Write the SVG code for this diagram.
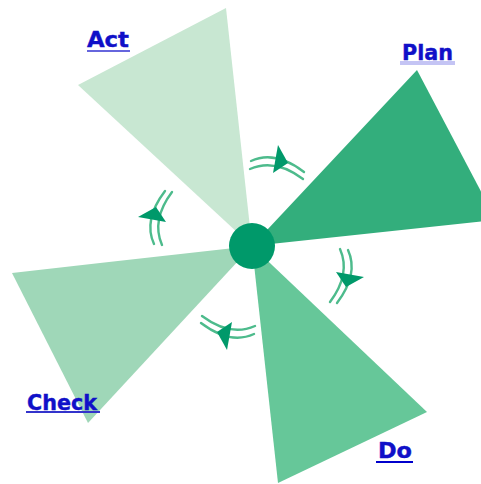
<svg xmlns="http://www.w3.org/2000/svg" width="481" height="484" viewBox="0 0 481 484">
  <style>
    .lbl { font-family: "DejaVu Sans", Verdana, sans-serif; font-weight: bold; font-size: 21px; fill: #1010c8; stroke: #1010c8; stroke-width: 0.4; }
    .strand { fill: none; stroke: #4dbb8c; stroke-width: 2.4; stroke-linecap: round; }
    .head { fill: #00996a; }
  </style>
  <defs>
    <g id="arrow">
      <path class="strand" d="M -7 -27 Q 4 -2 -17 26"/>
      <path class="strand" d="M 1 -26 Q 12 -2 -10 27"/>
      <polygon class="head" points="-11,-4 17,1 -1,11"/>
    </g>
  </defs>
  <rect width="481" height="484" fill="#ffffff"/>

  <g id="act">
    <polygon points="78,85 226,8 252,246" fill="#c8e7d2"/>
    <text class="lbl" x="87" y="47" textLength="42" lengthAdjust="spacingAndGlyphs">Act</text>
    <rect x="87" y="50" width="43" height="2" fill="#6666dd"/>
  </g>
  <g id="plan">
    <polygon points="417,70 496,220 252,246" fill="#33ae7c"/>
    <rect x="400" y="61" width="55" height="4" fill="#c4c4f4"/>
    <text class="lbl" x="402" y="60" textLength="51" lengthAdjust="spacingAndGlyphs">Plan</text>
  </g>
  <g id="do">
    <polygon points="427,412 278,483 252,246" fill="#66c799"/>
    <text class="lbl" x="378" y="458" textLength="34" lengthAdjust="spacingAndGlyphs">Do</text>
    <rect x="376" y="461" width="37" height="2" fill="#0000cc"/>
  </g>
  <g id="check">
    <polygon points="12,273 100,263 252,246 88,423" fill="#9fd7b8"/>
    <text class="lbl" x="27" y="410" textLength="70" lengthAdjust="spacingAndGlyphs">Check</text>
    <rect x="26" y="411" width="74" height="2" fill="#3333cc"/>
  </g>
  <g id="hub">
    <circle cx="252" cy="246" r="23" fill="#00996a"/>
  </g>

  <g id="connectors">
    <use href="#arrow" transform="translate(347,276)"/>
    <use href="#arrow" transform="translate(228,333) rotate(90)"/>
    <use href="#arrow" transform="translate(155,218) rotate(180)"/>
    <use href="#arrow" transform="translate(277,162) rotate(270)"/>
  </g>
</svg>
